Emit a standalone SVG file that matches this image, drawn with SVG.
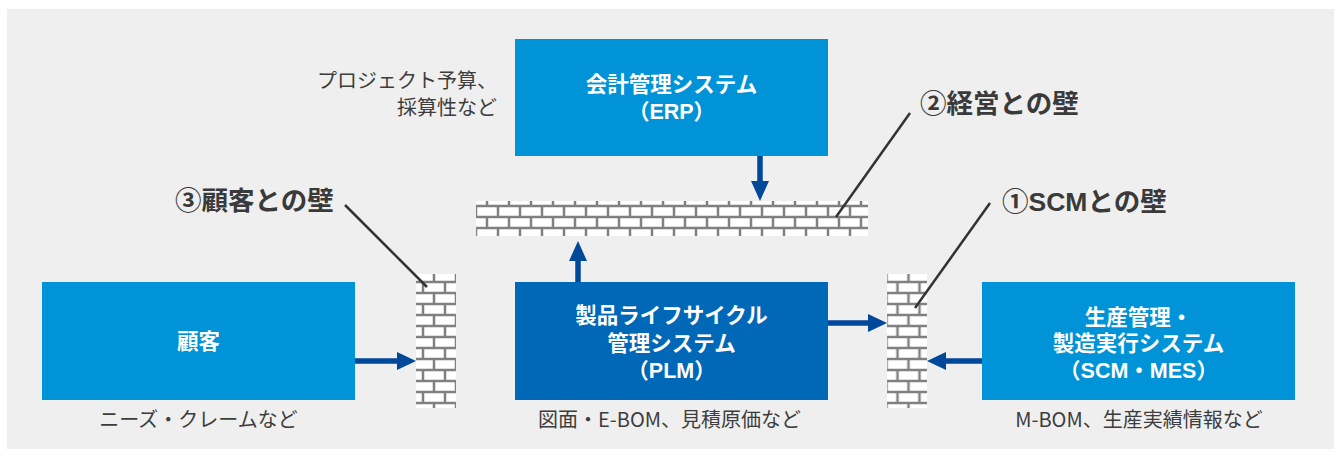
<svg xmlns="http://www.w3.org/2000/svg" width="1341" height="455" viewBox="0 0 1341 455">
  <style>
    .jp { font-family: "Noto Sans CJK JP", "Noto Sans", sans-serif; }
    .lat { font-family: "Liberation Sans", Arial, sans-serif; }
    .node-text { fill: #ffffff; font-size: 21.5px; font-weight: 700; text-anchor: middle; }
    .note { fill: #3d3d3d; font-size: 20px; }
    .title { fill: #3a3a3a; font-size: 26.5px; font-weight: 700; }
    .box-light { fill: #0093d8; }
    .box-dark { fill: #0068b7; }
    .arrow { fill: #00489a; }
    .leader { stroke: #333333; stroke-width: 2.5; fill: none; }
    .wall { fill: url(#bricks); }
  </style>
  <defs>
    <!-- two courses of bricks, half-brick offset between courses -->
    <pattern id="bricks" patternUnits="userSpaceOnUse" x="0" y="0" width="22" height="22">
      <rect width="22" height="22" fill="#808080"/>
      <rect x="1.25" y="1.25" width="19.5" height="8.5" fill="#ffffff"/>
      <rect x="-9.75" y="12.25" width="19.5" height="8.5" fill="#ffffff"/>
      <rect x="12.25" y="12.25" width="19.5" height="8.5" fill="#ffffff"/>
    </pattern>
  </defs>

  <!-- panel background -->
  <rect x="0" y="0" width="1341" height="455" fill="#ffffff"/>
  <rect x="7" y="9" width="1327" height="440" fill="#efefef"/>

  <!-- walls -->
  <g id="wall-management">
    <rect class="wall" transform="translate(498 206)" x="-22" y="-5" width="392" height="35"/>
  </g>
  <g id="wall-customer">
    <rect class="wall" transform="translate(423 282)" x="-7" y="-8" width="40" height="134"/>
  </g>
  <g id="wall-scm">
    <rect class="wall" transform="translate(897.5 282)" x="-10.5" y="-8" width="40" height="134"/>
  </g>

  <!-- systems -->
  <g id="node-erp">
    <rect class="box-light" x="515" y="39" width="313" height="117"/>
    <text class="jp node-text" x="671.5" y="92">会計管理システム</text>
    <text class="jp node-text" x="671.5" y="119">（<tspan class="lat">ERP</tspan>）</text>
  </g>
  <g id="node-customer">
    <rect class="box-light" x="42" y="282" width="313" height="118"/>
    <text class="jp node-text" x="198.5" y="349">顧客</text>
  </g>
  <g id="node-plm">
    <rect class="box-dark" x="515" y="282" width="313" height="118"/>
    <text class="jp node-text" x="671.5" y="323">製品ライフサイクル</text>
    <text class="jp node-text" x="671.5" y="351">管理システム</text>
    <text class="jp node-text" x="671.5" y="378">（<tspan class="lat">PLM</tspan>）</text>
  </g>
  <g id="node-scm-mes">
    <rect class="box-light" x="982" y="282" width="313" height="118"/>
    <text class="jp node-text" x="1138.5" y="325">生産管理・</text>
    <text class="jp node-text" x="1138.5" y="351">製造実行システム</text>
    <text class="jp node-text" x="1138.5" y="378">（<tspan class="lat">SCM</tspan>・<tspan class="lat">MES</tspan>）</text>
  </g>

  <!-- data carried by each system -->
  <g id="notes">
    <text class="jp note" x="497" y="88" text-anchor="end">プロジェクト予算、</text>
    <text class="jp note" x="497" y="115" text-anchor="end">採算性など</text>
    <text class="jp note" x="198.5" y="427" text-anchor="middle">ニーズ・クレームなど</text>
    <text class="jp note" x="669.5" y="427" text-anchor="middle">図面・E-BOM、見積原価など</text>
    <text class="jp note" x="1139" y="427" text-anchor="middle">M-BOM、生産実績情報など</text>
  </g>

  <!-- wall titles -->
  <g id="titles">
    <text class="jp title" x="175" y="210">③顧客との壁</text>
    <text class="jp title" x="920" y="113">②経営との壁</text>
    <text class="jp title" x="1002" y="211">①<tspan class="lat">SCM</tspan>との壁</text>
  </g>

  <!-- connectors -->
  <g id="connectors">
    <path class="arrow" d="M757.25,156 H762.75 V181 H769 L760,201 L751,181 H757.25 Z"/>
    <path class="arrow" d="M575.25,282 V261 H569 L578,241 L587,261 H580.75 V282 Z"/>
    <path class="arrow" d="M355,358.25 H397 V352 L416,361 L397,370 V363.75 H355 Z"/>
    <path class="arrow" d="M828,320.25 H868 V314 L887,323 L868,332 V325.75 H828 Z"/>
    <path class="arrow" d="M982,358.25 H946 V352 L927,361 L946,370 V363.75 H982 Z"/>
    <line class="leader" x1="345" y1="205" x2="427" y2="287"/>
    <line class="leader" x1="910" y1="113" x2="836" y2="217"/>
    <line class="leader" x1="990" y1="203" x2="915" y2="308"/>
  </g>
</svg>
